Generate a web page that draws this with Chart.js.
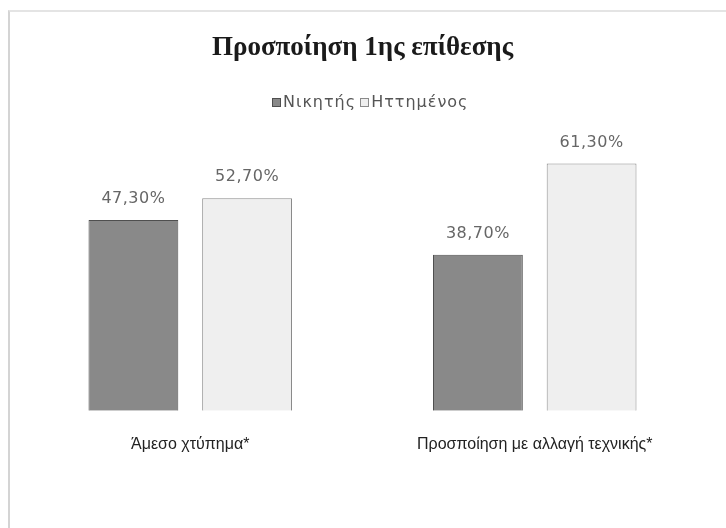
<!DOCTYPE html>
<html>
<head>
<meta charset="utf-8">
<script src="https://cdn.jsdelivr.net/npm/chart.js@4/dist/chart.umd.min.js"></script>
<style>
  html, body { margin: 0; padding: 0; background: #fff; overflow: hidden; }
  #wrap { position: relative; width: 726px; height: 528px; }
  #frame { position: absolute; left: 8px; top: 10px; width: 760px; height: 560px;
           border-left: 2px solid #d4d4d4; border-top: 2px solid #e4e4e4; }
  #wrap canvas { position: absolute; left: 0; top: 0; }
  #legend { position: absolute; left: 272px; top: 92px; font: 16px 'DejaVu Sans', sans-serif;
            color: #555; letter-spacing: 1px; white-space: nowrap; z-index: 2; }
  #legend span.box { display: inline-block; width: 9px; height: 9px; margin-right: 2px;
                     vertical-align: 0px; box-sizing: border-box; }
  #legend span.item { margin-right: 4px; }
</style>
</head>
<body>
<div id="wrap">
  <div id="frame"></div>
  <canvas id="chart" width="726" height="528"></canvas>
  <div id="legend"></div>
</div>
<script>
const categories = ["Άμεσο χτύπημα*", "Προσποίηση με αλλαγή τεχνικής*"];
const winners = [47.3, 38.7];
const losers = [52.7, 61.3];
const seriesNames = ["Νικητής", "Ηττημένος"];
const fills = ["#898989", "#efefef"];
const edges = ["#4f4f4f", "#8a8a8a"];

// draws the "47,30%" labels above each bar
const valueLabels = {
    id: "valueLabels",
    afterDatasetsDraw(chart) {
        const ctx = chart.ctx;
        ctx.save();
        ctx.font = "16px 'DejaVu Sans', sans-serif";
        ctx.letterSpacing = "0.5px";
        ctx.fillStyle = "#666";
        ctx.textAlign = "center";
        ctx.textBaseline = "middle";
        chart.data.datasets.forEach((ds, i) => {
            chart.getDatasetMeta(i).data.forEach((bar, j) => {
                const txt = ds.data[j].toFixed(2).replace(".", ",") + "%";
                ctx.fillText(txt, bar.x, bar.y - 21);
            });
        });
        ctx.restore();
    }
};

const chart = new Chart(document.getElementById("chart"), {
    type: "bar",
    data: {
        labels: categories,
        datasets: [
            { label: seriesNames[0], data: winners, backgroundColor: fills[0], borderColor: edges[0], borderWidth: 1 },
            { label: seriesNames[1], data: losers, backgroundColor: fills[1], borderColor: edges[1], borderWidth: 1 }
        ]
    },
    options: {
        responsive: false,
        animation: false,
        barPercentage: 0.79,
        categoryPercentage: 0.66,
        layout: { padding: { left: 18, right: 19, top: 24, bottom: 58 } },
        scales: {
            x: {
                grid: { display: false },
                border: { display: false },
                ticks: {
                    color: "#222",
                    padding: 16,
                    maxRotation: 0,
                    font: { family: "'Liberation Sans', Arial, sans-serif", size: 16 }
                }
            },
            y: { display: false, min: 0, max: 70 }
        },
        plugins: {
            title: {
                display: true,
                text: "Προσποίηση 1ης επίθεσης",
                color: "#1a1a1a",
                font: { family: "'Liberation Serif', 'Times New Roman', serif", size: 27, weight: "bold" },
                padding: { top: 8, bottom: 64 }
            },
            legend: { display: false },
            tooltip: { enabled: false }
        }
    },
    plugins: [valueLabels]
});

// legend built from the datasets
document.getElementById("legend").innerHTML = chart.data.datasets.map(ds =>
    `<span class="item"><span class="box" style="background:${ds.backgroundColor};border:1px solid ${ds.borderColor}"></span>${ds.label}</span>`
).join("");
</script>
</body>
</html>
